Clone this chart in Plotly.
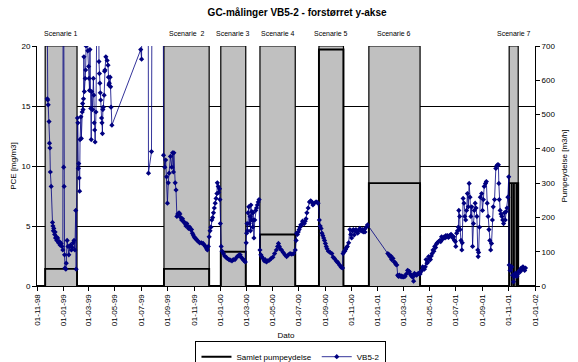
import pandas as pd
import plotly.graph_objects as go

# ---------------- data ----------------
axis_start = "1998-11-01"
axis_end = "2002-01-01"

scenario_labels = ["Scenarie 1", "Scenarie  2", "Scenarie 3", "Scenarie 4",
                   "Scenarie 5", "Scenarie 6", "Scenarie 7"]
scenario_start = ["1998-11-20", "1999-08-23", "2000-01-02", "2000-04-02",
                  "2000-08-17", "2000-12-11", "2001-11-02"]
scenario_end = ["1999-02-02", "1999-12-06", "2000-02-29", "2000-06-23",
                "2000-10-13", "2001-04-09", "2001-11-23"]
scenario_pump = [50, 50, 100, 150, 690, 300, 300]          # m3/h
scenario_stops = {6: ["2001-11-08", "2001-11-13", "2001-11-19"]}  # short stops in scenario 7
scenario_band = 700   # shaded band height (right axis)

# VB5-2 measurements: day number after 1998-11-01, PCE in mg/m3 (values >20 are off-scale)
vb_days = [
    22, 24, 25, 26, 28, 29, 30, 31, 33, 36, 37, 38, 39, 41, 42, 43, 45, 46, 48, 50,
    52, 54, 56, 58, 60, 61, 62, 63, 64, 65, 67, 68, 70, 72, 74, 76, 78, 80, 82, 84,
    86, 88, 90, 91,
    94, 95, 96, 97, 98, 99, 100, 102, 103, 105, 106, 107, 108, 109, 110, 112, 113, 114, 116, 118,
    120, 121, 122, 123, 125, 126, 127, 129, 131, 132, 133, 134, 135, 137, 139, 142, 144, 145, 146, 147,
    148, 150, 151, 152, 153, 154, 156, 157, 158, 160, 163, 165, 166, 167, 168, 170, 171, 172, 174,
    241, 243, 245, 258, 259, 266, 268, 293,
    294, 297, 299, 301, 303, 305, 307, 310, 313, 315, 317, 318, 321, 323, 325, 327, 328, 330, 332, 334,
    336, 338, 340, 342, 344, 346, 348, 350, 352, 355, 357, 359, 361, 363, 365, 367, 370, 372, 375, 378,
    382, 386, 389, 391, 394, 396, 398, 400, 402, 404, 406, 408, 410, 412, 414, 416, 418, 419, 421, 422,
    424, 425, 426, 428, 430, 433, 436, 439, 442, 446, 449, 453, 456, 460, 464, 467, 470, 472, 474, 477,
    480, 482, 484, 486, 487, 488, 489, 490, 492, 493, 495, 496, 497, 498, 499, 501, 502, 503, 504, 506,
    508, 510, 512, 514, 516, 518, 520, 522, 525, 528, 530, 533, 536, 540, 544, 548, 552, 556, 559, 561,
    563, 565, 568, 572, 576, 580, 584, 588, 592, 596, 600, 602, 603, 605, 607, 609, 611, 613, 615, 617,
    619, 621, 623, 625, 627, 630, 633, 636, 638, 641, 644, 648, 650, 653, 656, 658, 660, 662, 664, 666,
    668, 670, 672, 674, 677, 681, 685, 688, 691, 695, 698, 700, 703, 706, 708, 710, 711, 713, 715, 717,
    719, 721, 724, 727, 729, 731, 733, 735, 737, 739, 741, 743, 745, 747, 750, 753, 756, 758, 760, 762,
    765, 768, 815, 818, 820, 822, 824, 827, 830, 832, 834, 836, 838, 840, 842, 844, 846, 848, 850, 852,
    855, 858, 861, 863, 865, 867, 869, 871, 873, 875, 877, 879, 882, 884, 886, 888, 890, 892, 894, 896,
    898, 900, 902, 904, 906, 908, 910, 912, 914, 916, 918, 920, 922, 924, 926, 928, 930, 933, 936, 938,
    940, 942, 944, 946, 948, 950, 952, 954, 956, 958, 960, 962, 964, 966, 968, 970, 972, 973, 975, 977,
    979, 980, 982, 983, 985, 987, 988, 990, 992, 994, 996, 998, 1000, 1002, 1004, 1006, 1008, 1010, 1012, 1014,
    1016, 1018, 1020, 1022, 1024, 1025, 1026, 1028, 1030, 1033, 1035, 1037, 1039, 1042, 1044, 1046, 1048, 1050, 1052, 1054,
    1056, 1058, 1060, 1063, 1066, 1068, 1070, 1072, 1073, 1074, 1076, 1078, 1080, 1082, 1084, 1086, 1088, 1090, 1092, 1094,
    1096, 1097, 1099, 1101, 1103, 1105, 1107, 1109, 1111, 1113, 1115, 1117, 1119, 1121, 1123, 1125, 1127, 1129, 1131, 1133,
    1135,
]
vb_pce = [
    35, 15.6, 15.5, 15.1, 13.7, 11.9, 11.5, 9.5, 8.3, 5.3, 5.0, 4.6, 4.8, 4.3, 4.5, 4.0, 4.1, 3.8, 4.0, 3.6,
    3.7, 3.4, 3.55, 3.3, 3.0, 35, 9.9, 8.3, 2.6, 1.5, 1.4, 1.9, 3.8, 3.3, 2.6, 3.3, 3.4, 3.0, 3.2, 3.6,
    3.8, 3.0, 6.3, 1.4,
    14.0, 13.6, 9.8, 10.2, 9.0, 7.9, 12.2, 14.1, 12.3, 14.5, 15.2, 14.7, 15.6, 19.1, 16.2, 17.3, 18.0, 20.0, 35, 19.6,
    18.3, 17.3, 16.3, 19.7, 14.8, 12.2, 16.2, 14.7, 17.3, 15.9, 13.6, 13.0, 12.0, 14.5, 35, 35, 18.7, 17.7, 16.9, 16.1,
    15.5, 14.0, 13.6, 12.7, 14.7, 14.9, 15.9, 17.9, 18.0, 19.1, 18.8, 18.4, 17.4, 16.75, 16.9, 17.4, 16.6, 14.9, 13.4,
    19.7, 18.9, 35, 35, 9.4, 11.2, 35, 35,
    10.9, 9.9, 10.5, 9.1, 6.9, 8.6, 9.4, 10.8, 9.9, 11.1, 9.5, 11.1, 8.6, 8.0, 5.8, 6.0, 5.9, 6.1, 6.0, 5.7,
    5.5, 5.6, 5.4, 5.3, 5.2, 5.0, 5.2, 5.0, 4.8, 4.9, 4.7, 4.7, 4.4, 4.25, 4.1, 4.0, 3.9, 3.8, 3.7, 3.6,
    3.6, 3.55, 3.4, 3.3, 3.1, 3.0, 3.3, 4.1, 4.6, 4.9, 5.5, 5.7, 6.1, 6.5, 6.9, 7.3, 7.7, 8.6, 8.3, 7.8,
    8.1, 7.2, 5.2, 3.3, 2.9, 2.7, 2.5, 2.4, 2.3, 2.2, 2.15, 2.1, 2.2, 2.2, 2.4, 2.5, 2.6, 2.6, 2.4, 2.3,
    2.15, 2.1, 2.0, 3.6, 4.4, 5.2, 4.6, 6.1, 6.6, 5.2, 5.8, 4.6, 6.75, 5.5, 6.2, 4.9, 6.1, 5.5, 4.0, 5.5,
    6.3, 6.5, 6.75, 7.0, 7.2, 3.0, 2.6, 2.45, 2.3, 2.1, 2.2, 2.0, 2.1, 2.15, 2.3, 2.4, 2.7, 3.0, 3.3, 3.55,
    3.3, 3.1, 3.0, 2.8, 2.6, 2.45, 2.6, 2.7, 2.65, 2.7, 3.0, 3.8, 4.4, 4.3, 4.5, 4.7, 4.9, 5.1, 5.1, 5.4,
    5.3, 5.2, 5.4, 5.6, 6.1, 6.5, 7.0, 7.1, 7.0, 6.75, 6.9, 7.0, 7.0, 6.9, 5.5, 5.0, 4.8, 4.4, 4.2, 4.0,
    3.8, 3.55, 3.3, 3.1, 2.9, 2.8, 2.7, 2.4, 2.3, 2.1, 2.0, 1.9, 1.75, 1.6, 1.55, 1.5, 2.7, 2.85, 2.9, 3.05,
    3.2, 3.3, 3.6, 4.7, 4.3, 4.0, 4.6, 4.7, 4.25, 4.6, 4.7, 4.5, 4.4, 4.6, 4.8, 4.6, 4.7, 4.5, 4.7, 4.5,
    4.9, 5.1, 2.7, 2.6, 2.45, 2.5, 2.2, 2.3, 2.0, 1.95, 1.8, 1.75, 0.9, 0.8, 0.9, 0.8, 0.85, 0.75, 0.8, 0.75,
    0.8, 1.0, 1.3, 1.25, 1.2, 1.0, 0.9, 0.8, 0.75, 0.4, 1.05, 0.95, 0.9, 1.0, 1.05, 1.0, 1.0, 1.2, 1.3, 1.6,
    1.5, 1.4, 1.6, 2.2, 1.9, 2.0, 2.45, 2.3, 2.2, 2.5, 2.7, 3.0, 2.9, 3.3, 3.2, 3.5, 3.6, 3.7, 3.8, 3.7,
    4.1, 3.9, 4.0, 4.1, 4.0, 4.2, 4.1, 4.2, 4.05, 4.15, 4.25, 4.3, 4.2, 4.0, 4.1, 3.8, 3.7, 3.3, 4.4, 4.6,
    4.9, 6.3, 5.8, 4.7, 3.8, 3.0, 3.6, 7.3, 6.9, 5.8, 5.5, 6.3, 7.7, 6.6, 8.55, 7.4, 5.8, 6.6, 3.3, 5.2,
    6.3, 6.9, 6.5, 5.8, 3.0, 2.45, 2.8, 4.9, 7.4, 7.7, 6.3, 7.2, 8.3, 8.55, 8.7, 6.9, 5.8, 4.7, 3.8, 3.0,
    3.55, 5.5, 6.6, 7.2, 9.8, 10.0, 10.1, 10.1, 8.55, 7.2, 6.3, 6.0, 5.8, 5.5, 5.2, 6.1, 5.5, 6.2, 6.5, 7.4,
    9.1, 1.75, 1.3, 1.5, 1.6, 0.9, 0.35, 0.8, 1.05, 0.9, 0.8, 1.0, 1.2, 1.3, 1.2, 1.5, 1.4, 1.6, 1.5, 1.3,
    1.5,
]

# ---------------- derived series ----------------
base_date = pd.Timestamp(axis_start)
vb_dates = base_date + pd.to_timedelta(vb_days, unit="D")

pump_x, pump_y = [axis_start], [0]
band_x, band_y = [axis_start], [0]
for i, (s, e, p) in enumerate(zip(scenario_start, scenario_end, scenario_pump)):
    pump_x += [s, s]
    pump_y += [0, p]
    for st in scenario_stops.get(i, []):
        pump_x += [st, st, st]
        pump_y += [p, 0, p]
    pump_x += [e, e]
    pump_y += [p, 0]
    band_x += [s, s, e, e]
    band_y += [0, scenario_band, scenario_band, 0]
pump_x.append(axis_end)
pump_y.append(0)
band_x.append(axis_end)
band_y.append(0)

mid_dates = [pd.Timestamp(s) + (pd.Timestamp(e) - pd.Timestamp(s)) / 2
             for s, e in zip(scenario_start, scenario_end)]

FONT = "Liberation Sans, Arial, sans-serif"

fig = go.Figure()
fig.add_trace(go.Scatter(
    x=band_x, y=band_y, yaxis="y2", mode="lines", fill="tozeroy",
    fillcolor="#c0c0c0", line=dict(color="black", width=1.2),
    showlegend=False, hoverinfo="skip"))
fig.add_trace(go.Scatter(
    x=pump_x, y=pump_y, yaxis="y2", mode="lines", name="Samlet pumpeydelse",
    line=dict(color="black", width=1.9)))
fig.add_trace(go.Scatter(
    x=vb_dates, y=vb_pce, yaxis="y", mode="lines+markers", name="VB5-2",
    line=dict(color="#000080", width=0.8),
    marker=dict(symbol="diamond", size=4, color="#000080")))

for lab, md in zip(scenario_labels, mid_dates):
    fig.add_annotation(x=md, y=1, xref="x", yref="paper", yanchor="middle", yshift=13,
                       text=lab, showarrow=False,
                       font=dict(family=FONT, size=7, color="black"))

fig.update_layout(
    width=578, height=362,
    margin=dict(l=37, r=43, t=46, b=76, autoexpand=False),
    paper_bgcolor="white", plot_bgcolor="white",
    font=dict(family=FONT, size=8, color="black"),
    title=dict(text="<b>GC-målinger VB5-2 - forstørret y-akse</b>",
               x=0.514, xanchor="center", y=0.966, yanchor="middle",
               font=dict(family=FONT, size=10, color="black")),
    xaxis=dict(type="date", range=[axis_start, axis_end], automargin=False,
               tick0=axis_start, dtick="M2", tickformat="%d-%m-%y",
               tickangle=-90, ticks="outside", ticklen=4, tickcolor="black",
               showline=True, linecolor="black", linewidth=1,
               showgrid=False, zeroline=False,
               title=dict(text="Dato", standoff=7,
                          font=dict(family=FONT, size=8))),
    yaxis=dict(range=[0, 20], dtick=5, overlaying="y2", side="left",
               automargin=False,
               showgrid=True, gridcolor="black", gridwidth=1,
               showline=True, linecolor="black", linewidth=1,
               ticks="outside", ticklen=4, tickcolor="black", zeroline=False,
               title=dict(text="PCE [mg/m3]", standoff=3,
                          font=dict(family=FONT, size=8))),
    yaxis2=dict(range=[0, 700], dtick=100, side="right", anchor="x",
                automargin=False,
                showgrid=False, showline=True, linecolor="black", linewidth=1,
                ticks="outside", ticklen=4, tickcolor="black", zeroline=False,
                title=dict(text="Pumpeydelse [m3/h]", standoff=6,
                           font=dict(family=FONT, size=8))),
    legend=dict(orientation="h", x=0.51, y=-0.23, xanchor="center", yanchor="top",
                bordercolor="black", borderwidth=1, bgcolor="white",
                font=dict(family=FONT, size=8), itemwidth=30,
                tracegroupgap=0),
)

fig.write_html("out.html", config={"displayModeBar": False},
               post_script="document.body.style.margin='0px';document.body.style.overflow='hidden';")
